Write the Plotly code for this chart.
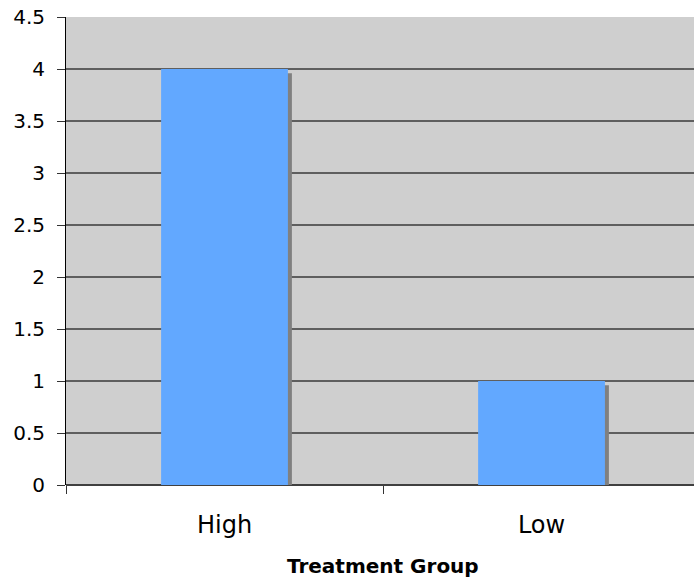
import plotly.graph_objects as go

categories = ["High", "Low"]
values = [4, 1]
y_ticks = [0, 0.5, 1, 1.5, 2, 2.5, 3, 3.5, 4, 4.5]
y_tick_labels = ["0", "0.5", "1", "1.5", "2", "2.5", "3", "3.5", "4", "4.5"]
x_title = "Treatment Group"

BAR_W = 0.40
SHADOW_DX = 0.0126   # ~4 px to the right
SHADOW_DY = 0.04     # ~4 px down
X_RANGE = [-0.5, 1.481]

fig = go.Figure()
fig.add_trace(go.Bar(
    x=categories, y=[v - SHADOW_DY for v in values],
    width=BAR_W, offset=-BAR_W / 2 + SHADOW_DX,
    marker=dict(color="#808080", line=dict(width=0)),
    hoverinfo="skip", showlegend=False,
))
fig.add_trace(go.Bar(
    x=categories, y=values,
    width=BAR_W, offset=-BAR_W / 2,
    marker=dict(color="#62A8FF", line=dict(width=0)),
    showlegend=False,
))

title_x = (0.5 - X_RANGE[0]) / (X_RANGE[1] - X_RANGE[0])

fig.update_layout(
    width=694, height=581,
    margin=dict(l=66, r=0, t=17, b=96),
    barmode="overlay",
    paper_bgcolor="white",
    plot_bgcolor="#CFCFCF",
    font=dict(family="DejaVu Sans", size=20, color="black"),
    xaxis=dict(
        type="category", range=X_RANGE,
        tickson="boundaries", ticks="outside", ticklen=8, tickcolor="#333",
        tickwidth=1, showgrid=False, showline=False,
        tickfont=dict(size=24), ticklabelstandoff=23,
    ),
    yaxis=dict(
        range=[0, 4.5], tickvals=y_ticks, ticktext=y_tick_labels,
        ticks="outside", ticklen=8, tickcolor="#333", tickwidth=1,
        showgrid=True, gridcolor="#5f5f5f", gridwidth=2,
        zeroline=True, zerolinecolor="#404040", zerolinewidth=2,
        showline=True, linecolor="black", linewidth=1,
        tickfont=dict(size=20), ticklabelstandoff=8,
    ),
    annotations=[dict(
        text="<b>" + x_title + "</b>", xref="paper", yref="paper",
        x=title_x, y=0, yshift=-67, yanchor="top", showarrow=False,
        font=dict(family="DejaVu Sans", size=20, color="black"),
    )],
)

fig.write_html("out.html", config={"displayModeBar": False},
               post_script="document.body.style.margin='0';")
